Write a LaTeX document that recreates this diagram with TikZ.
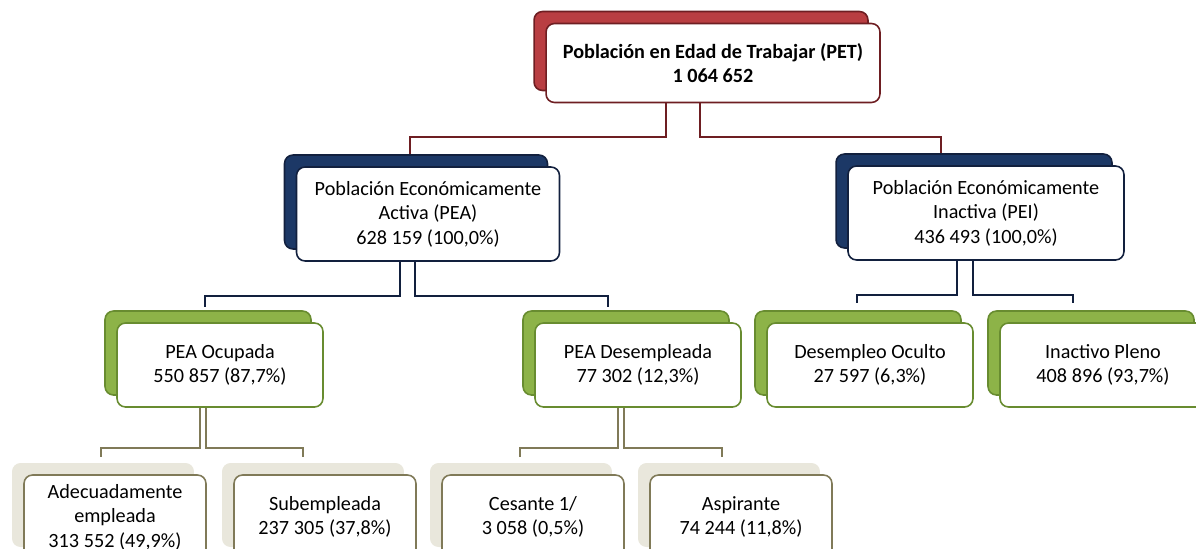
\documentclass[tikz,border=0pt]{standalone}
\usepackage{fontspec}
\setmainfont{Carlito}
\usepackage{tikz}
\usetikzlibrary{shadows,calc,positioning}

\definecolor{petred}{RGB}{185,62,66}
\definecolor{petdark}{RGB}{110,30,34}
\definecolor{peablue}{RGB}{28,56,102}
\definecolor{peadark}{RGB}{18,32,62}
\definecolor{grn}{RGB}{141,179,72}
\definecolor{grndark}{RGB}{104,140,48}
\definecolor{beige}{RGB}{233,231,220}
\definecolor{olive}{RGB}{128,122,88}

\tikzset{
  card/.style={rectangle, rounded corners=0.17cm, draw, line width=0.9pt, fill=white,
    align=center, font=\fontsize{11.5}{14}\selectfont, inner sep=2pt},
  back/.style={copy shadow={shadow xshift=-0.24cm, shadow yshift=0.24cm, fill=#1, draw=none}},
  link/.style={line width=1pt, draw=#1}
}

\begin{document}
\begin{tikzpicture}[x=0.02cm, y=-0.02cm]
   \useasboundingbox (0,0) rectangle (1196,548);
   \clip (0,0) rectangle (1196,548);
   % top
   \node (pet) [card, draw=petdark, minimum width=6.68cm, minimum height=1.58cm,
     copy shadow={shadow xshift=-0.24cm, shadow yshift=0.24cm, fill=petred, draw=petdark},
     font=\fontsize{11.5}{14}\selectfont\bfseries] at (713,63)
     {Población en Edad de Trabajar (PET)\\1 064 652};
   % second level
   \begin{scope}[every node/.style={card, draw=peadark, minimum height=1.88cm,
     copy shadow={shadow xshift=-0.24cm, shadow yshift=0.24cm, fill=peablue, draw=peadark}}]
    \node (pea) [minimum width=5.26cm] at (428,214) {Población Económicamente\\Activa (PEA)\\628 159 (100,0\%)};
    \node (pei) [minimum width=5.52cm] at (986,213) {Población Económicamente\\Inactiva (PEI)\\436 493 (100,0\%)};
   \end{scope}
   % third level
   \begin{scope}[every node/.style={card, draw=grndark, minimum width=4.12cm, minimum height=1.68cm,
     copy shadow={shadow xshift=-0.24cm, shadow yshift=0.24cm, fill=grn, draw=grndark}}]
    \node (ocup) at (220,365) {PEA Ocupada\\550 857 (87,7\%)};
    \node (desemp) at (638,365) {PEA Desempleada\\77 302 (12,3\%)};
    \node (oculto) at (870,365) {Desempleo Oculto\\27 597 (6,3\%)};
    \node (pleno) at (1103,365) {Inactivo Pleno\\408 896 (93,7\%)};
   \end{scope}
   % fourth level
   \begin{scope}[every node/.style={card, draw=olive, minimum width=3.64cm, minimum height=1.68cm,
     back=beige}]
    \node (adec) at (115,517) {Adecuadamente\\empleada\\313 552 (49,9\%)};
    \node (subemp) at (325,517) {Subempleada\\237 305 (37,8\%)};
    \node (cesante) at (533,517) {Cesante 1/\\3 058 (0,5\%)};
    \node (aspir) at (741,517) {Aspirante\\74 244 (11,8\%)};
   \end{scope}
   % connectors
   \begin{scope}[link=petdark]
    \draw ($(pet.south)+(-47,0)$) -- ++(0,34) -| ($(pea.north)+(-18,-12)$);
    \draw ($(pet.south)+(-13,0)$) -- ++(0,34) -| ($(pei.north)+(-45,-12)$);
   \end{scope}
   \begin{scope}[link=peadark]
    \draw ($(pea.south)+(-28,0)$) -- ++(0,34) -| ($(ocup.north)+(-15,-15)$);
    \draw ($(pea.south)+(-13,0)$) -- ++(0,34) -| ($(desemp.north)+(-30,-15)$);
    \draw ($(pei.south)+(-29,0)$) -- ++(0,34) -| ($(oculto.north)+(-13,-19)$);
    \draw ($(pei.south)+(-13,0)$) -- ++(0,34) -| ($(pleno.north)+(-30,-19)$);
   \end{scope}
   \begin{scope}[link=olive]
    \draw ($(ocup.south)+(-20,0)$) -- ++(0,40) -| ($(adec.north)+(-14,-17)$);
    \draw ($(ocup.south)+(-14,0)$) -- ++(0,40) -| ($(subemp.north)+(-22,-17)$);
    \draw ($(desemp.south)+(-20,0)$) -- ++(0,40) -| ($(cesante.north)+(-13,-17)$);
    \draw ($(desemp.south)+(-14,0)$) -- ++(0,40) -| ($(aspir.north)+(-19,-17)$);
   \end{scope}
\end{tikzpicture}
\end{document}
